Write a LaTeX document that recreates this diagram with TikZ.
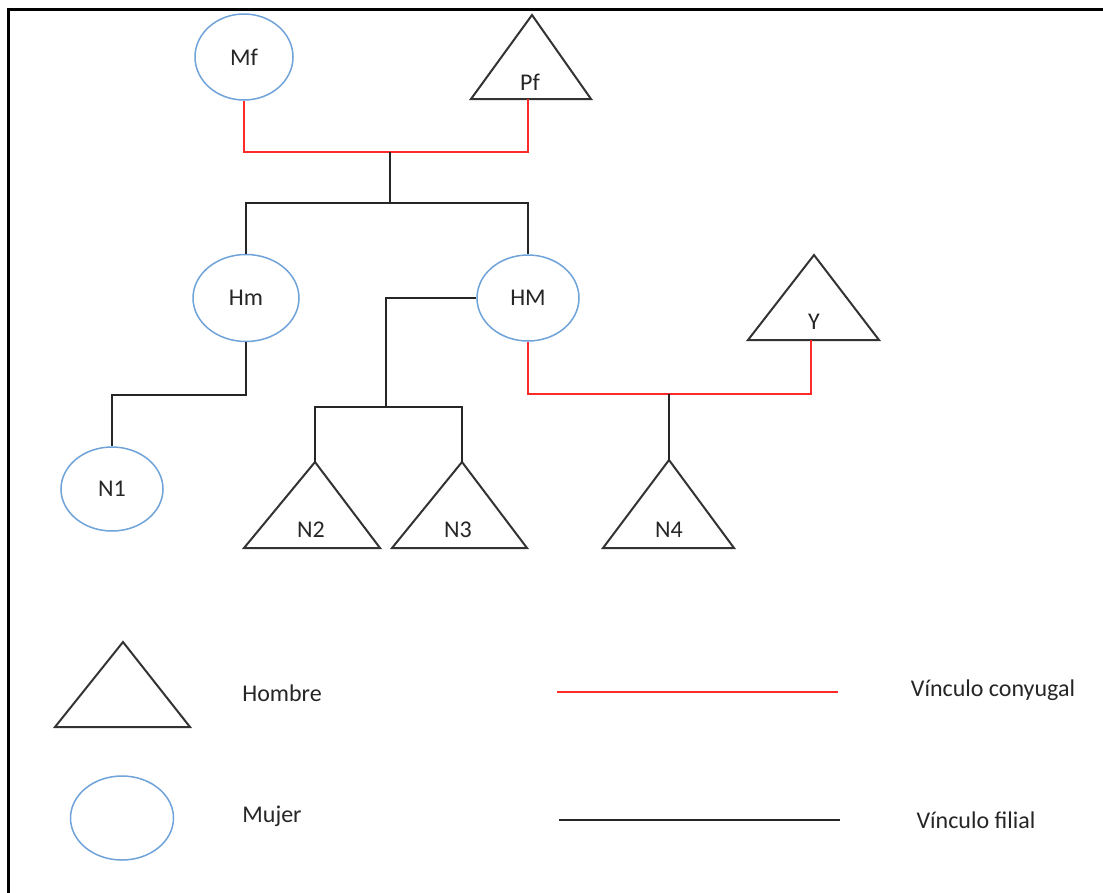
\documentclass[tikz,border=0pt]{standalone}
\usepackage{fontspec}
\setmainfont{Carlito}
\usetikzlibrary{shapes.geometric}
\definecolor{ellblue}{HTML}{6FA3DA}
\definecolor{conjred}{HTML}{FF2A2A}
\definecolor{txt}{HTML}{262626}
\begin{document}
\begin{tikzpicture}[x=1pt,y=-1pt,
  ell/.style={ellipse,draw=ellblue,line width=1.5pt,inner sep=0pt,text=txt,font=\fontsize{24}{26}\selectfont},
  tri/.style={draw=black!80,line width=2pt,line join=miter},
  lbl/.style={text=txt,font=\fontsize{24}{26}\selectfont,inner sep=0pt},
  legtxt/.style={text=txt,font=\fontsize{24}{26}\selectfont,inner sep=0pt},
  conj/.style={draw=conjred,line width=1.5pt},
  fil/.style={draw=black!85,line width=1.5pt}]
\useasboundingbox (0,0) rectangle (1103,892);
\fill[white] (0,0) rectangle (1103,892);
% frame
\draw[line width=3pt,black] (8.5,1000) -- (8.5,9.5) -- (1200,9.5);

% people
\node[ell,minimum width=98pt,minimum height=86pt] (Mf) at (244,57) {Mf};
\draw[tri] (532,15) -- (591,99) -- (471,99) -- cycle;
\coordinate (Pfb) at (528,99);
\node[lbl] (Pf) at (530,82) {Pf};

\node[ell,minimum width=106pt,minimum height=87pt] (Hm) at (246,298) {Hm};
\node[ell,minimum width=102pt,minimum height=86pt] (HM) at (528,298) {HM};

\draw[tri] (814,255) -- (879,340) -- (748,340) -- cycle;
\coordinate (Yb) at (811,340);
\node[lbl] (Y) at (814,322) {Y};

\node[ell,minimum width=102pt,minimum height=84pt] (N1) at (112,489) {N1};

\draw[tri] (315,462) -- (380,548) -- (244,548) -- cycle;
\coordinate (N2t) at (315,462);
\node[lbl] (N2) at (311,530) {N2};

\draw[tri] (462,462) -- (527,548) -- (392,548) -- cycle;
\coordinate (N3t) at (462,462);
\node[lbl] (N3) at (458,530) {N3};

\draw[tri] (669,460) -- (734,548) -- (603,548) -- cycle;
\coordinate (N4t) at (669,460);
\node[lbl] (N4) at (669,530) {N4};

% junctions
\coordinate (J1) at (390,152);
\coordinate (J2) at (390,203);
\coordinate (J3) at (386,407);
\coordinate (J4) at (112,395);
\coordinate (J5) at (669,394);

% connectors
\draw[conj] (Mf.south) |- (J1) -| (Pfb);
\draw[fil] (J1) -- (J2);
\draw[fil] (Hm.north) |- (J2) -| (HM.north);
\draw[fil] (Hm.south) |- (J4) -- (N1.north);
\draw[fil] (HM.west) -| (J3);
\draw[fil] (N2t) |- (J3) -| (N3t);
\draw[conj] (HM.south) |- (J5) -| (Yb);
\draw[fil] (J5) -- (N4t);

% legend
\draw[tri] (123,642) -- (190,727) -- (55,727) -- cycle;
\node[legtxt] (hombre) at (282,693) {Hombre};
\node[ellipse,draw=ellblue,line width=1.5pt,minimum width=103pt,minimum height=84pt] (legell) at (122,818) {};
\node[legtxt] (mujer) at (272,816) {Mujer};
\coordinate (c1) at (557,692);
\coordinate (c2) at (838,692);
\draw[conj] (c1) -- (c2);
\node[legtxt] (vconj) at (993,690) {Vínculo conyugal};
\coordinate (f1) at (559,820);
\coordinate (f2) at (840,820);
\draw[fil] (f1) -- (f2);
\node[legtxt] (vfil) at (976,820) {Vínculo filial};
\end{tikzpicture}
\end{document}
